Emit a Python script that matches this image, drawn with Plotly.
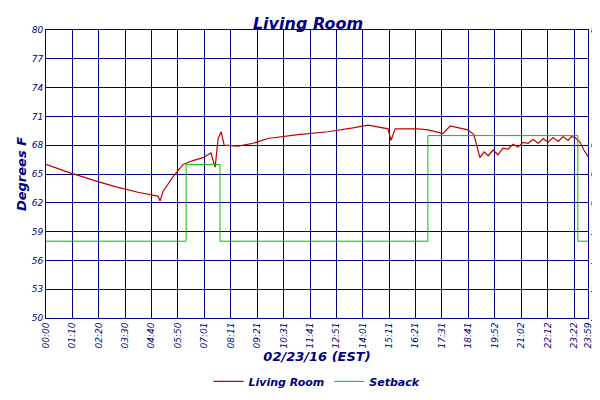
import plotly.graph_objects as go

# Living room temperature (minutes since midnight, deg F)
room_min = [0, 58, 138, 191, 244, 297, 303, 311, 337, 364, 390, 417, 438, 449, 457, 465, 473,
            510, 550, 589, 669, 749, 815, 855, 908, 916, 927, 988, 1014, 1054, 1073, 1120, 1136,
            1152, 1163, 1174, 1187, 1200, 1213, 1227, 1240, 1253, 1267, 1280, 1293, 1307, 1320,
            1333, 1346, 1360, 1373, 1386, 1395, 1405, 1418, 1428, 1439]
room_temp = [66.0, 65.2, 64.2, 63.6, 63.1, 62.7, 62.2, 63.2, 64.7, 66.0, 66.4, 66.7, 67.2, 65.7,
             68.7, 69.4, 68.0, 67.9, 68.2, 68.7, 69.1, 69.4, 69.8, 70.1, 69.7, 68.5, 69.7, 69.7,
             69.6, 69.2, 70.0, 69.6, 69.1, 66.7, 67.3, 66.9, 67.5, 67.0, 67.7, 67.6, 68.1, 67.8,
             68.3, 68.2, 68.6, 68.2, 68.7, 68.3, 68.8, 68.4, 68.9, 68.5, 68.9, 68.8, 68.3, 67.5, 66.8]

# Setback schedule
set_min = [0, 372, 462, 1014, 1412, 1439]
set_temp = [58, 66, 58, 69, 58, 58]

tick_vals = [0, 70, 140, 210, 280, 350, 421, 491, 561, 631, 701, 771, 841, 911, 981, 1051,
             1121, 1192, 1262, 1332, 1402, 1439]
tick_text = ["00:00", "01:10", "02:20", "03:30", "04:40", "05:50", "07:01", "08:11", "09:21",
             "10:31", "11:41", "12:51", "14:01", "15:11", "16:21", "17:31", "18:41", "19:52",
             "21:02", "22:12", "23:22", "23:59"]
y_ticks = [50, 53, 56, 59, 62, 65, 68, 71, 74, 77, 80]

navy = "#000080"

fig = go.Figure()
fig.add_trace(go.Scatter(x=room_min, y=room_temp, mode="lines", name="Living Room",
                         line=dict(color="#c00000", width=1.2)))
fig.add_trace(go.Scatter(x=set_min, y=set_temp, mode="lines", name="Setback",
                         line=dict(color="#00c000", width=1, shape="hv")))
fig.add_trace(go.Scatter(x=[0], y=[50], yaxis="y2", showlegend=False, hoverinfo="skip",
                         mode="markers", marker=dict(opacity=0)))

fig.update_layout(
    width=600, height=400,
    paper_bgcolor="white", plot_bgcolor="white",
    margin=dict(l=38, r=20, t=22, b=78),
    font=dict(family="DejaVu Sans", color=navy, size=10, style="italic"),
    title=dict(text="<b>Living Room</b>", x=0.5, y=0.975, xanchor="center",
               font=dict(size=16, color=navy, family="DejaVu Sans", style="italic")),
    xaxis=dict(range=[0, 1439], tickvals=tick_vals, ticktext=tick_text, tickangle=-90,
               showgrid=True, gridcolor=navy, gridwidth=1, linecolor=navy, mirror=True,
               showline=True, zeroline=False, tickfont=dict(size=9), automargin=False,
               title=dict(text="<b>02/23/16 (EST)</b>", font=dict(size=13), standoff=4)),
    yaxis=dict(range=[50, 80], tickvals=y_ticks, showgrid=True, gridcolor=navy,
               linecolor=navy, showline=True, zeroline=False, tickfont=dict(size=9),
               automargin=False,
               title=dict(text="<b>Degrees F</b>", font=dict(size=13), standoff=2)),
    yaxis2=dict(range=[50, 80], tickvals=y_ticks, overlaying="y", side="right",
                showgrid=False, linecolor=navy, showline=True, zeroline=False,
                tickfont=dict(size=9), automargin=False),
    legend=dict(orientation="h", x=0.5, xanchor="center", y=-0.22, yanchor="middle",
                font=dict(size=11, weight="bold")),
)

fig.write_html("out.html")
